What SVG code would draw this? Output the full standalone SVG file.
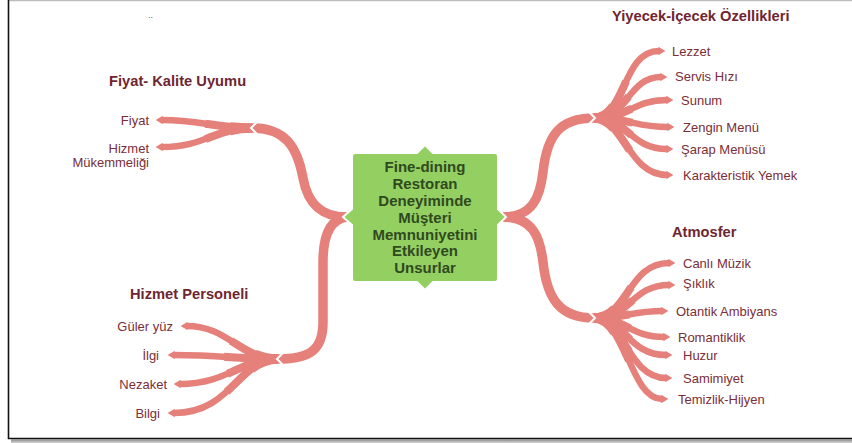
<svg xmlns="http://www.w3.org/2000/svg" xmlns:xlink="http://www.w3.org/1999/xlink" width="852" height="443" viewBox="0 0 852 443">
<style>
.lbl{font-family:"Liberation Sans",Arial,sans-serif;font-size:13px;fill:#7a2e38}
.ttl{font-family:"Liberation Sans",Arial,sans-serif;font-size:14.7px;font-weight:bold;fill:#6e2630}
.ctr{font-family:"Liberation Sans",Arial,sans-serif;font-size:15px;font-weight:bold;fill:#2f4a1e}
.trunk{fill:none;stroke:#e5807a;stroke-width:9.5}
.b1{fill:none;stroke:#e5807a;stroke-width:9.5;stroke-dasharray:24 200}
.b2{fill:none;stroke:#e5807a;stroke-width:8;stroke-dasharray:52 200}
.b3{fill:none;stroke:#e5807a;stroke-width:6.5;marker-end:url(#tip)}
.gap{fill:none;stroke:#fff;stroke-width:2}
</style>
<defs>
<marker id="tip" viewBox="0 0 10 10" refX="1" refY="5" markerWidth="1.1" markerHeight="1.3" orient="auto" markerUnits="strokeWidth" preserveAspectRatio="none">
<path d="M0,0 L10,5 L0,10 Z" fill="#e5807a"/>
</marker>
<linearGradient id="shadow" x1="0" y1="0" x2="0" y2="1">
<stop offset="0" stop-color="#8a8a8a"/>
<stop offset="1" stop-color="#d8d8d8"/>
</linearGradient>
<path id="L1" pathLength="100" d="M594,118 C626,118 622,51 659,51"/>
<path id="L2" pathLength="100" d="M594,118 C628,118 628,77 661,77"/>
<path id="L3" pathLength="100" d="M594,118 C630,118 632,100 667,100"/>
<path id="L4" pathLength="100" d="M594,118 C630,118 634,127 668,127"/>
<path id="L5" pathLength="100" d="M594,118 C628,118 630,149 667,149"/>
<path id="L6" pathLength="100" d="M594,118 C624,118 628,175 667,175"/>
<path id="A1" pathLength="100" d="M594,318 C628,318 628,263 669,263"/>
<path id="A2" pathLength="100" d="M594,318 C630,318 632,285 669,285"/>
<path id="A3" pathLength="100" d="M594,318 C625,318 632,311 662,311"/>
<path id="A4" pathLength="100" d="M594,318 C625,318 630,337 664,337"/>
<path id="A5" pathLength="100" d="M594,318 C624,318 628,355 666,355"/>
<path id="A6" pathLength="100" d="M594,318 C624,318 628,378 666,378"/>
<path id="A7" pathLength="100" d="M594,318 C626,318 630,399 662,399"/>
<path id="F1" pathLength="100" d="M252,128 C215,128 200,120 162,120"/>
<path id="F2" pathLength="100" d="M252,128 C215,128 205,147 162,147"/>
<path id="H1" pathLength="100" d="M278,359 C240,359 228,326 187,326"/>
<path id="H2" pathLength="100" d="M278,359 C240,359 220,355 174,355"/>
<path id="H3" pathLength="100" d="M278,359 C240,359 228,384 180,384"/>
<path id="H4" pathLength="100" d="M278,359 C238,359 232,413 174,413"/>
</defs>

<g id="frame">
<rect x="0" y="0" width="852" height="443" fill="#fff"/>
<line x1="8" y1="0.5" x2="852" y2="0.5" stroke="#bdbdbd" stroke-width="1.5"/>
<rect x="11" y="439.5" width="841" height="3.5" fill="url(#shadow)"/>
<line x1="8.5" y1="0" x2="8.5" y2="439" stroke="#111" stroke-width="1.6"/>
<line x1="8" y1="438.5" x2="852" y2="438.5" stroke="#111" stroke-width="1.6"/>
<text x="148" y="18" font-family="Liberation Sans, sans-serif" font-size="9" fill="#555">..</text>
</g>

<g id="connectors">
<path class="trunk" d="M503,217 C532,217 540,198 543,172 C547,135 560,118 594,118"/>
<path class="trunk" d="M503,217 C532,217 540,236 543,262 C547,299 560,318 594,318"/>
<path class="trunk" d="M347,217 C318,217 307,200 303,178 C297,146 285,128 252,128"/>
<path class="trunk" d="M347,217 C330,219 323,235 323,262 L323,322 C323,350 310,359 278,359"/>
<use xlink:href="#L1" class="b1"/><use xlink:href="#L1" class="b2"/><use xlink:href="#L1" class="b3"/>
<use xlink:href="#L2" class="b1"/><use xlink:href="#L2" class="b2"/><use xlink:href="#L2" class="b3"/>
<use xlink:href="#L3" class="b1"/><use xlink:href="#L3" class="b2"/><use xlink:href="#L3" class="b3"/>
<use xlink:href="#L4" class="b1"/><use xlink:href="#L4" class="b2"/><use xlink:href="#L4" class="b3"/>
<use xlink:href="#L5" class="b1"/><use xlink:href="#L5" class="b2"/><use xlink:href="#L5" class="b3"/>
<use xlink:href="#L6" class="b1"/><use xlink:href="#L6" class="b2"/><use xlink:href="#L6" class="b3"/>
<use xlink:href="#A1" class="b1"/><use xlink:href="#A1" class="b2"/><use xlink:href="#A1" class="b3"/>
<use xlink:href="#A2" class="b1"/><use xlink:href="#A2" class="b2"/><use xlink:href="#A2" class="b3"/>
<use xlink:href="#A3" class="b1"/><use xlink:href="#A3" class="b2"/><use xlink:href="#A3" class="b3"/>
<use xlink:href="#A4" class="b1"/><use xlink:href="#A4" class="b2"/><use xlink:href="#A4" class="b3"/>
<use xlink:href="#A5" class="b1"/><use xlink:href="#A5" class="b2"/><use xlink:href="#A5" class="b3"/>
<use xlink:href="#A6" class="b1"/><use xlink:href="#A6" class="b2"/><use xlink:href="#A6" class="b3"/>
<use xlink:href="#A7" class="b1"/><use xlink:href="#A7" class="b2"/><use xlink:href="#A7" class="b3"/>
<use xlink:href="#F1" class="b1"/><use xlink:href="#F1" class="b2"/><use xlink:href="#F1" class="b3"/>
<use xlink:href="#F2" class="b1"/><use xlink:href="#F2" class="b2"/><use xlink:href="#F2" class="b3"/>
<use xlink:href="#H1" class="b1"/><use xlink:href="#H1" class="b2"/><use xlink:href="#H1" class="b3"/>
<use xlink:href="#H2" class="b1"/><use xlink:href="#H2" class="b2"/><use xlink:href="#H2" class="b3"/>
<use xlink:href="#H3" class="b1"/><use xlink:href="#H3" class="b2"/><use xlink:href="#H3" class="b3"/>
<use xlink:href="#H4" class="b1"/><use xlink:href="#H4" class="b2"/><use xlink:href="#H4" class="b3"/>
<polyline class="gap" points="589,112 595,118 589,124"/>
<polyline class="gap" points="589,312 595,318 589,324"/>
<polyline class="gap" points="257,122 251,128 257,134"/>
<polyline class="gap" points="283,353 277,359 283,365"/>
</g>

<g id="center">
<path d="M355,153 L417,153 L425,145 L433,153 L495,153 Q498,153 498,156 L498,209 L506,217 L498,225 L498,279 Q498,282 495,282 L433,282 L425,290 L417,282 L355,282 Q352,282 352,279 L352,225 L343,217 L352,209 L352,156 Q352,153 355,153 Z" fill="#94cf62" stroke="#fff" stroke-width="2"/>
<text class="ctr" text-anchor="middle" x="425" y="172.3">Fine-dining<tspan x="425" dy="16.8">Restoran</tspan><tspan x="425" dy="16.8">Deneyiminde</tspan><tspan x="425" dy="16.8">Müşteri</tspan><tspan x="425" dy="16.8">Memnuniyetini</tspan><tspan x="425" dy="16.8">Etkileyen</tspan><tspan x="425" dy="16.8">Unsurlar</tspan></text>
</g>

<g id="yiyecek">
<text class="ttl" x="612" y="20.5">Yiyecek-İçecek Özellikleri</text>
<text class="lbl" x="672" y="55.5">Lezzet</text>
<text class="lbl" x="675" y="81">Servis Hızı</text>
<text class="lbl" x="681" y="104.5">Sunum</text>
<text class="lbl" x="683" y="131.5">Zengin Menü</text>
<text class="lbl" x="681" y="153.5">Şarap Menüsü</text>
<text class="lbl" x="683" y="179.5">Karakteristik Yemek</text>
</g>

<g id="atmosfer">
<text class="ttl" x="672" y="237">Atmosfer</text>
<text class="lbl" x="683" y="267.5">Canlı Müzik</text>
<text class="lbl" x="683" y="288">Şıklık</text>
<text class="lbl" x="676" y="315.5">Otantik Ambiyans</text>
<text class="lbl" x="678" y="341.5">Romantiklik</text>
<text class="lbl" x="683" y="359.5">Huzur</text>
<text class="lbl" x="683" y="382.5">Samimiyet</text>
<text class="lbl" x="678" y="403.5">Temizlik-Hijyen</text>
</g>

<g id="fiyat-kalite">
<text class="ttl" x="109" y="86">Fiyat- Kalite Uyumu</text>
<text class="lbl" text-anchor="end" x="149" y="124.5">Fiyat</text>
<text class="lbl" text-anchor="end" x="149" y="152.5">Hizmet</text>
<text class="lbl" text-anchor="end" x="149" y="166.5">Mükemmeliği</text>
</g>

<g id="hizmet-personeli">
<text class="ttl" x="130" y="299">Hizmet Personeli</text>
<text class="lbl" text-anchor="end" x="173" y="330.5">Güler yüz</text>
<text class="lbl" text-anchor="end" x="159" y="359.5">İlgi</text>
<text class="lbl" text-anchor="end" x="167" y="388.5">Nezaket</text>
<text class="lbl" text-anchor="end" x="160" y="417.5">Bilgi</text>
</g>
</svg>
